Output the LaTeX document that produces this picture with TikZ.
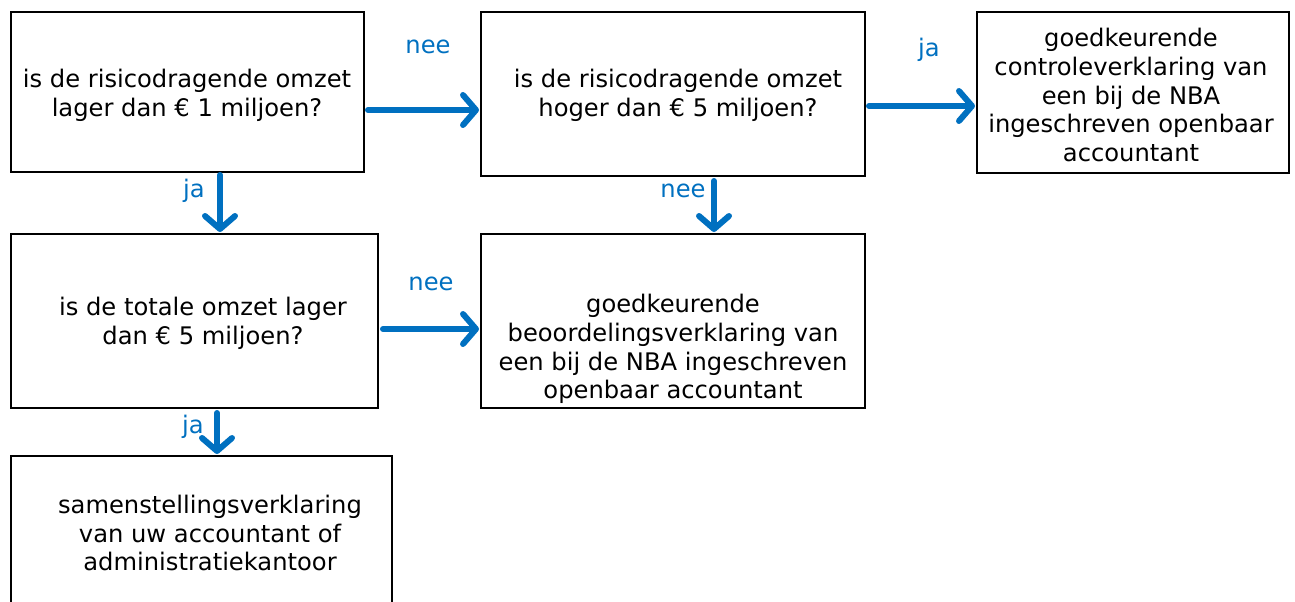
\documentclass[tikz,border=0pt]{standalone}
\usepackage{fontspec}
\setmainfont{DejaVu Sans}
\usetikzlibrary{arrows.meta}
\definecolor{arrblue}{HTML}{0070C0}
\tikzset{
  box/.style={draw=black, line width=2pt, rectangle, inner sep=0pt},
  txt/.style={align=center, inner sep=0pt, font=\fontsize{24.2}{28.8}\selectfont},
  lbl/.style={text=arrblue, inner sep=0pt, font=\fontsize{24.2}{28.8}\selectfont},
  conn/.style={draw=arrblue, line width=6pt, line cap=round, -{Straight Barb[length=13pt,width=30pt,round]}}
}
\begin{document}
\begin{tikzpicture}[x=1pt,y=-1pt]
\useasboundingbox (0,0) rectangle (1295,602);
% boxes
\node[box, minimum width=353pt, minimum height=160pt] (b1) at (187.5,92) {};
\node[box, minimum width=384pt, minimum height=164pt] (b2) at (673,94) {};
\node[box, minimum width=312pt, minimum height=161pt] (b3) at (1133,92.5) {};
\node[box, minimum width=367pt, minimum height=174pt] (b4) at (194.5,321) {};
\node[box, minimum width=384pt, minimum height=174pt] (b5) at (673,321) {};
\coordinate (b6tl) at (11,456);
\coordinate (b6br) at (392,612);
\draw[line width=2pt] (b6tl) rectangle (b6br);
\node[inner sep=0pt, minimum width=381pt, minimum height=156pt] (b6) at (201.5,534) {};
% texts
\node[txt] (t1) at (187,95) {is de risicodragende omzet\\lager dan € 1 miljoen?};
\node[txt] (t2) at (678,95) {is de risicodragende omzet\\hoger dan € 5 miljoen?};
\node[txt] (t3) at (1131,95) {goedkeurende\\controleverklaring van\\een bij de NBA\\ingeschreven openbaar\\accountant};
\node[txt] (t4) at (203,323) {is de totale omzet lager\\dan € 5 miljoen?};
\node[txt] (t5) at (673,349) {goedkeurende\\beoordelingsverklaring van\\een bij de NBA ingeschreven\\openbaar accountant};
\node[txt] (t6) at (210,533) {samenstellingsverklaring\\van uw accountant of\\administratiekantoor};
% connectors
\coordinate (a1s) at (368,110); \coordinate (a1e) at (479,110);
\coordinate (a2s) at (869,106); \coordinate (a2e) at (975,106);
\coordinate (a3s) at (220,175); \coordinate (a3e) at (220,232);
\coordinate (a4s) at (714,181); \coordinate (a4e) at (714,232);
\coordinate (a5s) at (383,329); \coordinate (a5e) at (479,329);
\coordinate (a6s) at (217,413); \coordinate (a6e) at (217,454);
\draw[conn] (a1s) -- (a1e);
\draw[conn] (a2s) -- (a2e);
\draw[conn] (a3s) -- (a3e);
\draw[conn] (a4s) -- (a4e);
\draw[conn] (a5s) -- (a5e);
\draw[conn] (a6s) -- (a6e);
% labels
\node[lbl] (l1) at (428,47) {nee};
\node[lbl] (l2) at (929,50) {ja};
\node[lbl] (l3) at (194,191) {ja};
\node[lbl] (l4) at (683,191) {nee};
\node[lbl] (l5) at (431,284) {nee};
\node[lbl] (l6) at (193,427) {ja};
\end{tikzpicture}
\end{document}
